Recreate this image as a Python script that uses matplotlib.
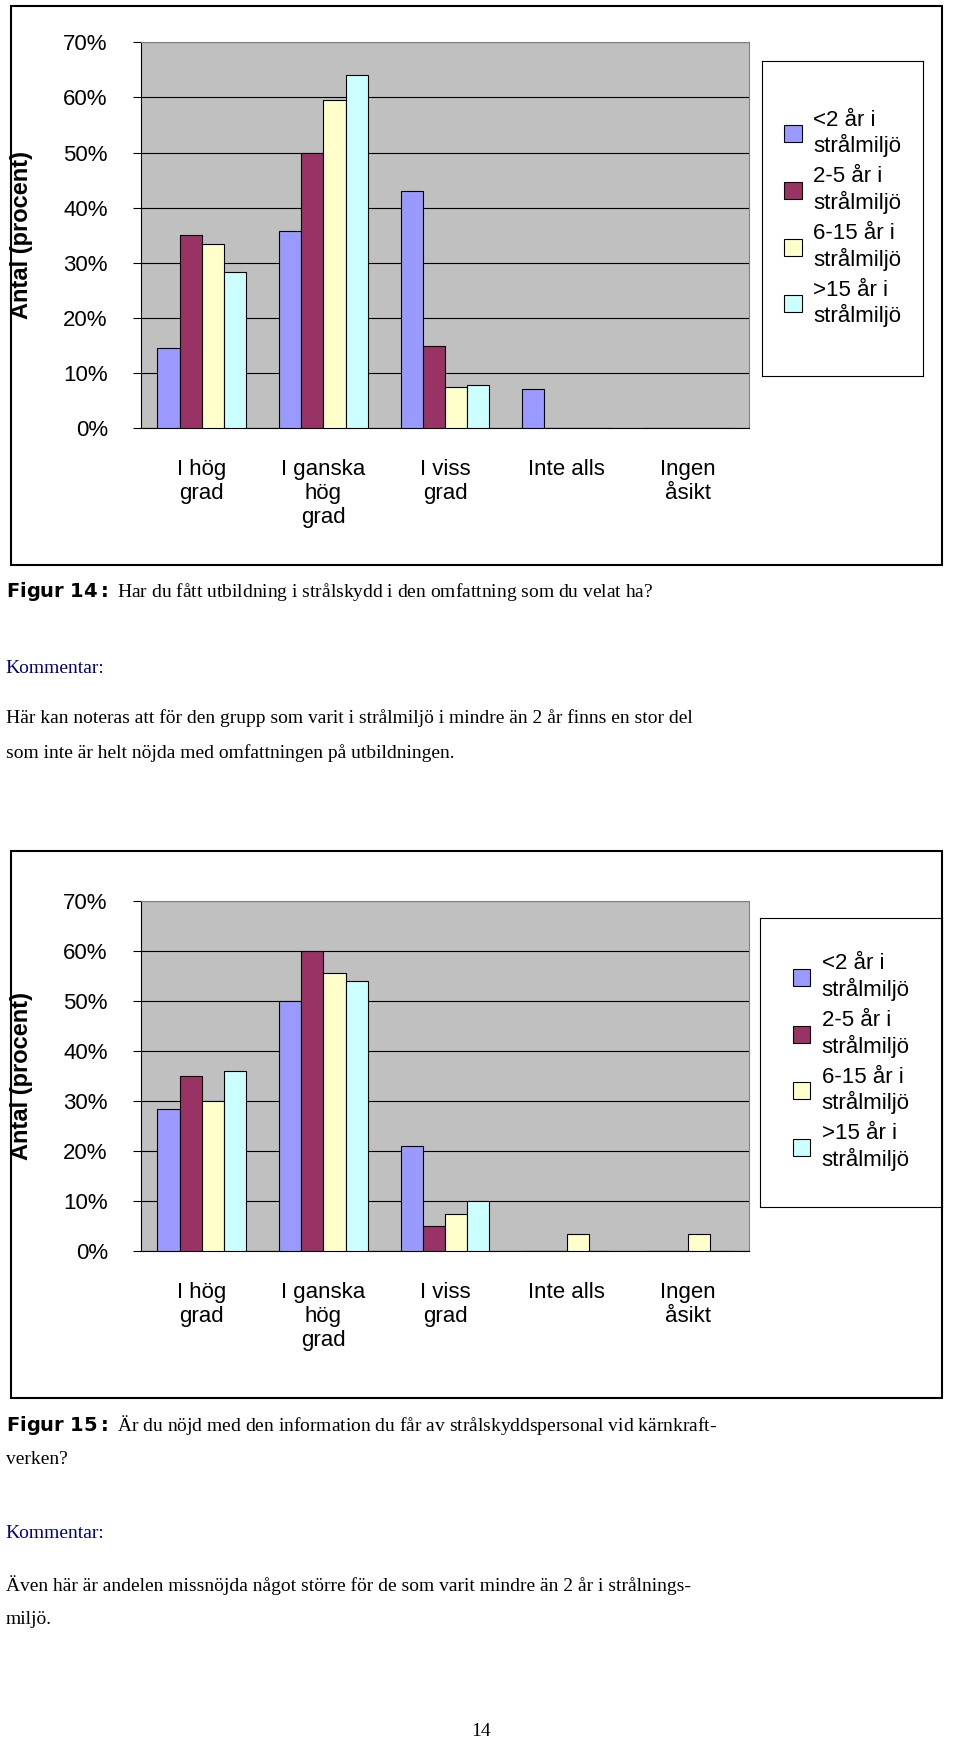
import numpy as np
import matplotlib
matplotlib.use("Agg")
import matplotlib.pyplot as plt
from matplotlib.patches import Rectangle

categories = ["I hög\ngrad", "I ganska\nhög\ngrad", "I viss\ngrad", "Inte alls", "Ingen\nåsikt"]
series = ["<2 år i\nstrålmiljö", "2-5 år i\nstrålmiljö", "6-15 år i\nstrålmiljö", ">15 år i\nstrålmiljö"]
colors = ["#9999FF", "#993366", "#FFFFCC", "#CCFFFF"]
yticks = [0, 10, 20, 30, 40, 50, 60, 70]

fig14_lt2 = [14.5, 35.7, 43, 7.2, 0]
fig14_2_5 = [35, 50, 15, 0, 0]
fig14_6_15 = [33.5, 59.5, 7.5, 0, 0]
fig14_gt15 = [28.3, 64, 7.8, 0, 0]

fig15_lt2 = [28.5, 50, 21, 0, 0]
fig15_2_5 = [35, 60, 5, 0, 0]
fig15_6_15 = [30, 55.5, 7.5, 3.5, 3.5]
fig15_gt15 = [36, 54, 10, 0, 0]

W, H = 864.0, 1568.0
fig = plt.figure(figsize=(9.6, 17.44), dpi=100)
serif = "Liberation Serif"
sans = "Liberation Sans"

def fx(x): return x / W
def fy(y): return 1 - y / H

def chart(box, plot, legend_box, data):
    # outer frame
    fig.add_artist(Rectangle((fx(box[0]), fy(box[3])), fx(box[2] - box[0]), (box[3] - box[1]) / H,
                             transform=fig.transFigure, fill=False, lw=1.5, ec="black"))
    ax = fig.add_axes([fx(plot[0]), fy(plot[3]), fx(plot[2] - plot[0]), (plot[3] - plot[1]) / H])
    ax.set_facecolor("#C0C0C0")
    x = np.arange(len(categories))
    w = 0.183
    bars = []
    for i, vals in enumerate(data):
        b = ax.bar(x + (i - 1.5) * w, vals, w, color=colors[i], edgecolor="black", lw=0.8, zorder=3)
        bars.append(b)
    ax.set_xlim(-0.5, len(categories) - 0.5)
    ax.set_ylim(0, 70)
    ax.set_yticks(yticks)
    ax.set_yticklabels([f"{t}%" for t in yticks], fontsize=16, fontfamily=sans)
    ax.yaxis.grid(True, color="black", lw=0.8, zorder=0)
    ax.set_xticks(x)
    ax.set_xticklabels(categories, fontsize=16, fontfamily=sans, va="top")
    ax.tick_params(axis="x", length=0, pad=22)
    ax.tick_params(axis="y", length=6, pad=18)
    for s in ["top", "right"]:
        ax.spines[s].set_color("#808080")
    ax.set_ylabel("Antal (procent)", fontsize=17, fontfamily=sans, fontweight="bold", labelpad=22)
    lax = fig.add_axes([fx(legend_box[0]), fy(legend_box[3]), fx(legend_box[2] - legend_box[0]),
                        (legend_box[3] - legend_box[1]) / H])
    lax.set_xticks([])
    lax.set_yticks([])
    lax.set_facecolor("white")
    lax.legend(bars, series, loc="center", frameon=False, prop={"family": sans, "size": 16},
               handlelength=0.8, handleheight=0.8, handletextpad=0.5, labelspacing=0.4)
    return ax

chart((10, 5, 848, 508), (127, 38, 674, 385), (686, 55, 831, 338),
      [fig14_lt2, fig14_2_5, fig14_6_15, fig14_gt15])
chart((10, 765, 848, 1257), (127, 810, 674, 1125), (684, 825, 848, 1085),
      [fig15_lt2, fig15_2_5, fig15_6_15, fig15_gt15])

ts = 14
fig.text(fx(5), fy(532), r"$\bf{Figur\ 14:}$ Har du fått utbildning i strålskydd i den omfattning som du velat ha?",
         fontsize=ts, fontfamily=serif, va="center")
fig.text(fx(5), fy(601), "Kommentar:", fontsize=ts, fontfamily=serif, color="#000080", va="center")
fig.text(fx(5), fy(646), "Här kan noteras att för den grupp som varit i strålmiljö i mindre än 2 år finns en stor del",
         fontsize=ts, fontfamily=serif, va="center")
fig.text(fx(5), fy(677), "som inte är helt nöjda med omfattningen på utbildningen.",
         fontsize=ts, fontfamily=serif, va="center")
fig.text(fx(5), fy(1281), r"$\bf{Figur\ 15:}$ Är du nöjd med den information du får av strålskyddspersonal vid kärnkraft-",
         fontsize=ts, fontfamily=serif, va="center")
fig.text(fx(5), fy(1312), "verken?", fontsize=ts, fontfamily=serif, va="center")
fig.text(fx(5), fy(1379), "Kommentar:", fontsize=ts, fontfamily=serif, color="#000080", va="center")
fig.text(fx(5), fy(1425), "Även här är andelen missnöjda något större för de som varit mindre än 2 år i strålnings-",
         fontsize=ts, fontfamily=serif, va="center")
fig.text(fx(5), fy(1456), "miljö.", fontsize=ts, fontfamily=serif, va="center")
fig.text(fx(433), fy(1557), "14", fontsize=ts, fontfamily=serif, va="center", ha="center")

fig.savefig("out.png", dpi=100)
